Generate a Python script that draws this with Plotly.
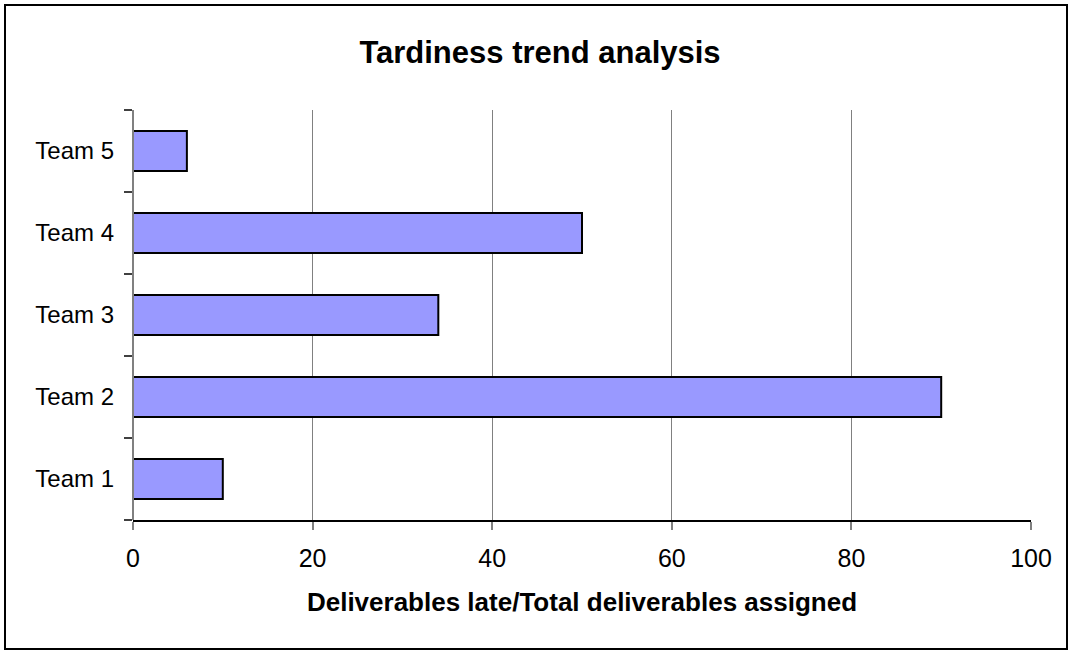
import plotly.graph_objects as go

teams = ["Team 1", "Team 2", "Team 3", "Team 4", "Team 5"]
late_ratio = [10, 90, 34, 50, 6]
x_ticks = [0, 20, 40, 60, 80, 100]

W, H = 1073, 652
L, R, T, B = 133, 42, 110, 132
pw, ph = W - L - R, H - T - B

def px(xp):
    return (xp - L) / pw

def py(yp):
    return (H - B - yp) / ph

fig = go.Figure(go.Bar(
    y=teams, x=late_ratio, orientation="h",
    marker=dict(color="#9999FF", line=dict(color="black", width=2)),
    width=0.49,
))

fig.update_layout(
    width=W, height=H,
    margin=dict(l=L, r=R, t=T, b=B),
    paper_bgcolor="white", plot_bgcolor="white",
    font=dict(family="Liberation Sans, Arial", color="black", size=24),
    title=dict(text="<b>Tardiness trend analysis</b>", x=px(540), xref="paper", xanchor="center",
               y=1 - 52 / H, yanchor="middle", font=dict(size=31)),
    showlegend=False,
    xaxis=dict(range=[0, 100], tickvals=x_ticks, showgrid=True, gridcolor="#808080",
               gridwidth=1, zeroline=False, showline=True, linecolor="black", linewidth=1.5,
               ticks="outside", ticklen=8, tickcolor="#808080", tickwidth=2,
               tickfont=dict(size=25), ticklabelstandoff=7,
               title=dict(text="<b>Deliverables late/Total deliverables assigned</b>",
                          font=dict(size=26), standoff=22)),
    yaxis=dict(categoryorder="array", categoryarray=teams, showgrid=False, zeroline=False,
               showline=False, ticks="outside", tickson="boundaries", ticklen=8,
               tickcolor="#404040", tickwidth=1.5, tickfont=dict(size=24),
               ticklabelstandoff=18),
    shapes=[
        dict(type="rect", xref="paper", yref="paper", x0=px(5), x1=px(1067), y0=py(649), y1=py(5),
             line=dict(color="black", width=2), layer="below"),
        dict(type="line", xref="paper", yref="paper", x0=0, x1=0, y0=0, y1=1,
             line=dict(color="#808080", width=2)),
    ],
)

fig.write_html("out.html", config={"displayModeBar": False},
               post_script="document.body.style.margin='0';document.body.style.overflow='hidden';")
